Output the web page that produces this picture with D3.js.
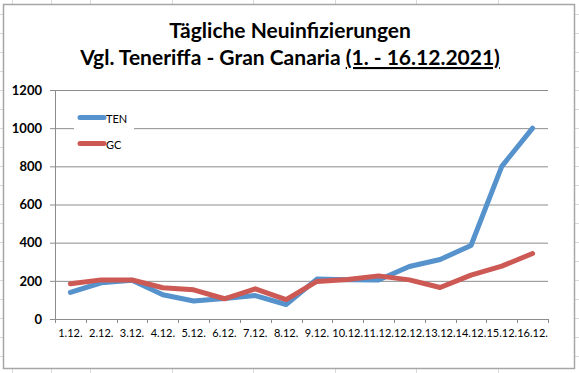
<!DOCTYPE html>
<html>
<head>
<meta charset="utf-8">
<script src="https://cdn.jsdelivr.net/npm/d3@7"></script>
<style>
  body { margin: 0; background: #fff; }
  svg { display: block; font-family: Lato, "Open Sans", sans-serif; }
</style>
</head>
<body>
<div id="chart"></div>
<script>
// data
var days = ["1.12.", "2.12.", "3.12.", "4.12.", "5.12.", "6.12.", "7.12.", "8.12.",
            "9.12.", "10.12.", "11.12.", "12.12.", "13.12.", "14.12.", "15.12.", "16.12."];
var ten = [139, 190, 203, 127, 94, 108, 123, 76, 209, 206, 204, 275, 312, 385, 800, 1000];
var gc  = [185, 205, 205, 164, 153, 106, 158, 102, 197, 207, 226, 205, 165, 230, 277, 343];
var yTicks = [0, 200, 400, 600, 800, 1000, 1200];
var seriesNames = ["TEN", "GC"];
var seriesColors = ["#5692cb", "#cd5955"];

var W = 579, H = 373;
var plot = {left: 55, right: 548, top: 90, bottom: 319};

var svg = d3.select("#chart").append("svg")
    .attr("width", W)
    .attr("height", H);

// spreadsheet grid behind the chart object
var colLines = [12, 51, 90, 172, 253, 335, 416, 498];
svg.selectAll(".col")
    .data(colLines)
  .enter().append("line")
    .attr("x1", function(d) { return d + 0.5; })
    .attr("x2", function(d) { return d + 0.5; })
    .attr("y1", 0).attr("y2", H)
    .style("stroke", "#d9d9d9");
svg.selectAll(".row")
    .data(d3.range(14.5, H, 19))
  .enter().append("line")
    .attr("x1", 0).attr("x2", W)
    .attr("y1", function(d) { return d; })
    .attr("y2", function(d) { return d; })
    .style("stroke", "#d9d9d9");

// chart frame
svg.append("rect")
    .attr("x", 3.5).attr("y", 4.5)
    .attr("width", 571).attr("height", 364)
    .style("fill", "#fff")
    .style("stroke", "#a6a6a6")
    .style("stroke-width", 1.5);

// title
var title = svg.append("text")
    .attr("text-anchor", "middle")
    .style("font-weight", "bold")
    .style("font-size", "21px")
    .style("fill", "#000");
title.append("tspan")
    .attr("x", 290).attr("y", 38)
    .text("Tägliche Neuinfizierungen");
var line2 = title.append("tspan")
    .attr("x", 290).attr("y", 65);
line2.append("tspan").text("Vgl. Teneriffa - Gran Canaria ");
line2.append("tspan")
    .style("text-decoration", "underline")
    .text("(1. - 16.12.2021)");

// scales
var x = d3.scaleBand()
    .domain(days)
    .range([plot.left, plot.right]);
var y = d3.scaleLinear()
    .domain([0, 1200])
    .range([plot.bottom, plot.top]);

// gridlines + y axis
var yAxis = d3.axisLeft(y)
    .tickValues(yTicks)
    .tickFormat(d3.format("d"))
    .tickSize(-(plot.right - plot.left))
    .tickSizeOuter(0)
    .tickPadding(13);
var gy = svg.append("g")
    .attr("transform", "translate(" + plot.left + ",0)")
    .call(yAxis);
gy.select(".domain").remove();
gy.selectAll(".tick line")
    .attr("x1", -5)
    .style("stroke", "#8c8c8c");
gy.selectAll(".tick text")
    .style("font-family", "Lato, sans-serif")
    .style("font-size", "13px")
    .style("font-weight", "bold")
    .style("fill", "#000");

svg.append("line")
    .attr("x1", plot.left + 0.5).attr("x2", plot.left + 0.5)
    .attr("y1", plot.top).attr("y2", plot.bottom)
    .style("stroke", "#8c8c8c");

// x axis, ticks between categories
var gx = svg.append("g")
    .attr("transform", "translate(0," + plot.bottom + ")");
gx.append("line")
    .attr("x1", plot.left - 5).attr("x2", plot.right)
    .attr("y1", 0.5).attr("y2", 0.5)
    .style("stroke", "#8c8c8c");
gx.selectAll(".xtick")
    .data(days.concat(["end"]))
  .enter().append("line")
    .attr("x1", function(d, i) { return Math.round(plot.left + i * x.bandwidth()) + 0.5; })
    .attr("x2", function(d, i) { return Math.round(plot.left + i * x.bandwidth()) + 0.5; })
    .attr("y1", 0).attr("y2", 4)
    .style("stroke", "#8c8c8c");
gx.selectAll(".xlabel")
    .data(days)
  .enter().append("text")
    .attr("x", function(d) { return x(d) + x.bandwidth() / 2; })
    .attr("y", 18)
    .attr("text-anchor", "middle")
    .style("font-size", "11px")
    .style("fill", "#000")
    .text(function(d) { return d; });

// lines
var line = d3.line()
    .x(function(d, i) { return x(days[i]) + x.bandwidth() / 2; })
    .y(function(d) { return y(d); });

[ten, gc].forEach(function(s, k) {
  svg.append("path")
      .datum(s)
      .attr("d", line)
      .style("fill", "none")
      .style("stroke", seriesColors[k])
      .style("stroke-width", 5)
      .style("stroke-linejoin", "round")
      .style("stroke-linecap", "round");
});

// legend
var legend = svg.append("g");
legend.append("rect")
    .attr("x", 74).attr("y", 106)
    .attr("width", 60).attr("height", 50)
    .style("fill", "#fff");
seriesNames.forEach(function(name, k) {
  var ly = 117.5 + k * 26;
  legend.append("line")
      .attr("x1", 80).attr("x2", 104)
      .attr("y1", ly).attr("y2", ly)
      .style("stroke", seriesColors[k])
      .style("stroke-width", 5)
      .style("stroke-linecap", "round");
  legend.append("text")
      .attr("x", 106).attr("y", ly + 5)
      .style("font-size", "11px")
      .style("fill", "#000")
      .text(name);
});
</script>
</body>
</html>
